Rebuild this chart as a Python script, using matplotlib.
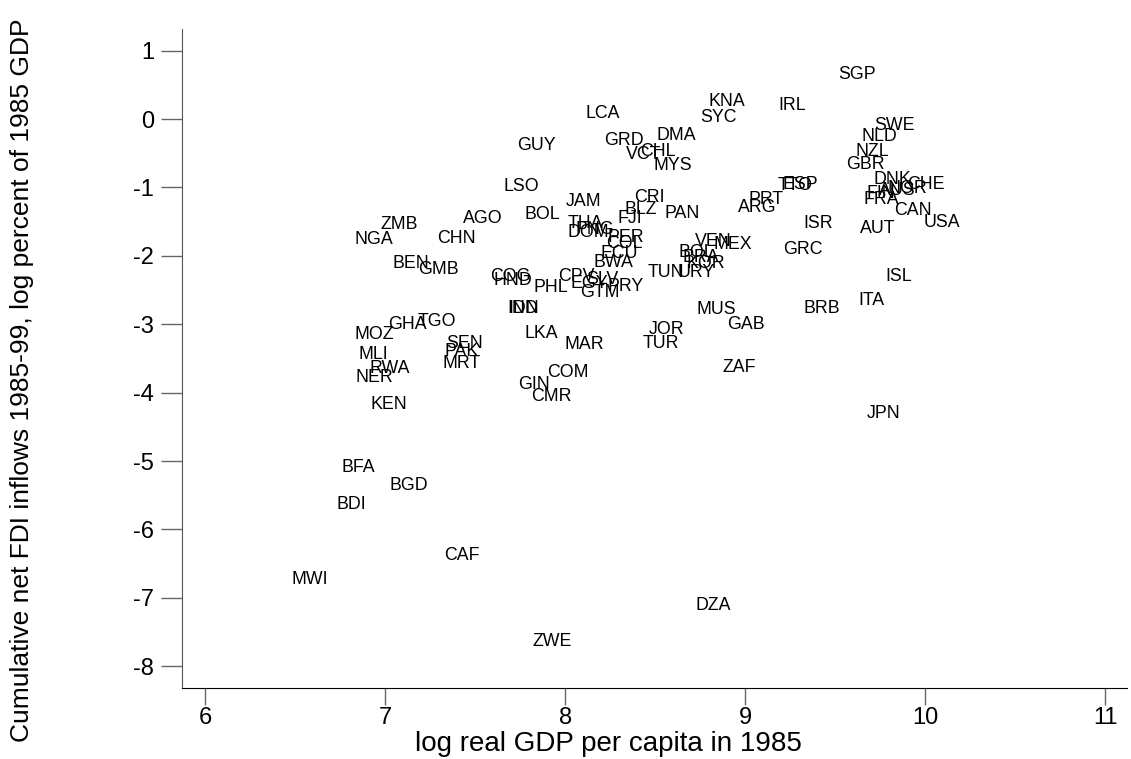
#!/usr/bin/env python
# -*- coding: utf-8 -*-
"""
FDI inflows vs. initial income: country-code scatter
"""

import matplotlib
matplotlib.use('Agg')
import matplotlib.pyplot as plt

matplotlib.rcParams['font.family'] = ['Liberation Sans', 'DejaVu Sans']

# Country codes, log real GDP per capita 1985, log cumulative FDI (% of GDP)
codes = [
    'SGP', 'KNA', 'IRL', 'SYC', 'LCA', 'SWE', 'NLD', 'NZL', 'GBR', 'GUY',
    'GRD', 'DMA', 'VCT', 'CHL', 'MYS', 'LSO', 'CRI', 'JAM', 'BLZ', 'PAN',
    'FJI', 'BOL', 'AGO', 'ZMB', 'NGA', 'CHN', 'THA', 'DOM', 'PNG', 'PER',
    'COL', 'ECU', 'BWA', 'VEN', 'MEX', 'BOL', 'BRA', 'KOR', 'URY', 'TUN',
    'COG', 'HND', 'IND', 'IDN', 'PHL', 'CPV', 'EGY', 'SLV', 'GTM', 'PRY',
    'BEN', 'GMB', 'MOZ', 'GHA', 'TGO', 'MLI', 'RWA', 'NER', 'KEN', 'SEN',
    'PAK', 'MRT', 'LKA', 'MAR', 'JOR', 'TUR', 'COM', 'GIN', 'CMR', 'ZAF',
    'MUS', 'GAB', 'BRB', 'ITA', 'ISL', 'JPN', 'GRC', 'ISR', 'AUT', 'USA',
    'CAN', 'FRA', 'FIN', 'AUS', 'NOR', 'DNK', 'CHE', 'TTO', 'ESP', 'PRT',
    'ARG', 'BFA', 'BGD', 'BDI', 'CAF', 'MWI', 'DZA', 'ZWE',
]
log_gdp = [
    9.517, 8.794, 9.183, 8.750, 8.111, 9.717, 9.644, 9.611, 9.561, 7.733,
    8.217, 8.506, 8.339, 8.417, 8.489, 7.656, 8.383, 8.000, 8.328, 8.550,
    8.289, 7.772, 7.433, 6.972, 6.828, 7.289, 8.011, 8.011, 8.056, 8.233,
    8.228, 8.194, 8.156, 8.722, 8.822, 8.628, 8.650, 8.672, 8.622, 8.456,
    7.583, 7.600, 7.678, 7.683, 7.822, 7.961, 8.028, 8.117, 8.083, 8.233,
    7.039, 7.183, 6.828, 7.017, 7.178, 6.850, 6.911, 6.833, 6.917, 7.339,
    7.328, 7.317, 7.772, 7.994, 8.461, 8.428, 7.900, 7.739, 7.811, 8.872,
    8.728, 8.900, 9.322, 9.628, 9.778, 9.672, 9.211, 9.322, 9.639, 9.989,
    9.828, 9.656, 9.672, 9.740, 9.790, 9.711, 9.900, 9.178, 9.206, 9.017,
    8.961, 6.756, 7.022, 6.728, 7.328, 6.478, 8.722, 7.817,
]
log_fdi = [
    0.650, 0.263, 0.205, 0.029, 0.088, -0.088, -0.249, -0.468, -0.658, -0.380,
    -0.307, -0.234, -0.512, -0.468, -0.673, -0.980, -1.140, -1.199, -1.316, -1.374,
    -1.447, -1.389, -1.447, -1.535, -1.754, -1.740, -1.530, -1.652, -1.620, -1.725,
    -1.813, -1.959, -2.091, -1.783, -1.827, -1.944, -2.018, -2.105, -2.237, -2.237,
    -2.295, -2.354, -2.763, -2.763, -2.456, -2.295, -2.398, -2.339, -2.529, -2.442,
    -2.105, -2.193, -3.143, -2.997, -2.953, -3.436, -3.640, -3.772, -4.167, -3.275,
    -3.392, -3.567, -3.129, -3.289, -3.070, -3.275, -3.699, -3.874, -4.050, -3.626,
    -2.778, -2.997, -2.763, -2.646, -2.295, -4.298, -1.901, -1.520, -1.594, -1.506,
    -1.330, -1.170, -1.082, -1.040, -1.010, -0.880, -0.950, -0.965, -0.950, -1.170,
    -1.287, -5.088, -5.365, -5.643, -6.389, -6.740, -7.120, -7.646,
]

x_ticks = [6, 7, 8, 9, 10, 11]
y_ticks = [1, 0, -1, -2, -3, -4, -5, -6, -7, -8]


def main():
    fig = plt.figure(figsize=(11.31, 7.59), dpi=100)
    ax = fig.add_axes([0.161, 0.0935, 0.8355, 0.8685])

    # labels only, no markers
    for code, x, y in zip(codes, log_gdp, log_fdi):
        ax.text(x, y, code, fontsize=12.8, ha='left', va='center', color='black')

    ax.set_xlim(5.872, 11.12)
    ax.set_ylim(-8.32, 1.32)
    ax.set_xticks(x_ticks)
    ax.set_yticks(y_ticks)
    ax.set_yticklabels([str(v) for v in y_ticks], rotation=0)

    for side in ['top', 'right']:
        ax.spines[side].set_visible(False)
    ax.spines['left'].set_color('#555555')
    ax.spines['bottom'].set_color('black')

    ax.tick_params(axis='y', direction='out', length=15, width=1,
                   color='#666666', labelsize=17, pad=5)
    ax.tick_params(axis='x', direction='out', length=12, width=1,
                   color='#666666', labelsize=17, pad=2)

    ax.set_xlabel('log real GDP per capita in 1985', fontsize=20, va='center')
    ax.xaxis.set_label_coords(0.451, -0.085)
    ax.set_ylabel('Cumulative net FDI inflows 1985-99, log percent of 1985 GDP',
                  fontsize=19, va='center')
    ax.yaxis.set_label_coords(-0.169, 0.467)

    fig.savefig('out.png', dpi=100)
    plt.close(fig)


if __name__ == '__main__':
    main()
